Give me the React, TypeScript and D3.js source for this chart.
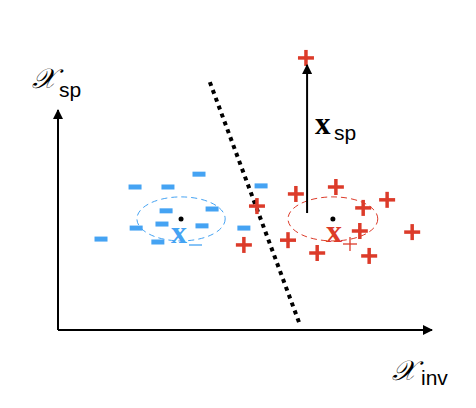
import React from 'react';
import * as d3 from 'd3';

// points in axis units (x: 0..10, y: 0..6)
const negX = [3.77, 2.06, 2.94, 5.43, 2.89, 4.12, 2.78, 2.09, 3.85, 4.97, 1.15, 2.67];
const negY = [4.25, 3.9, 3.9, 3.93, 3.25, 3.3, 2.89, 2.78, 2.84, 2.78, 2.48, 2.4];
const posX = [6.63, 6.36, 7.43, 8.8, 5.32, 8.16, 8.07, 6.15, 4.97, 9.47, 6.93, 8.32];
const posY = [7.42, 3.71, 3.9, 3.55, 3.38, 3.33, 2.7, 2.45, 2.32, 2.67, 2.1, 2.02];
const centers = [
  { name: 'neg', x: 3.29, y: 3.03, rx: 1.18, ry: 0.6 },
  { name: 'pos', x: 7.35, y: 3.03, rx: 1.2, ry: 0.6 },
];
const boundary = [[4.06, 6.76], [6.47, 0.14]];
const shift = [[6.66, 3.19], [6.66, 7.23]];

const BLUE = '#45a3f3';
const RED = '#dc3b2a';

const App = () => {
  const width = 476;
  const height = 408;
  const x = d3.scaleLinear().domain([0, 10]).range([58, 432]);
  const y = d3.scaleLinear().domain([0, 6]).range([330, 110]);
  const line = d3.line().x((d) => x(d[0])).y((d) => y(d[1]));

  const neg = negX.map((v, i) => ({ x: v, y: negY[i] }));
  const pos = posX.map((v, i) => ({ x: v, y: posY[i] }));

  return (
    <svg width={width} height={height} style={{ position: 'absolute', left: 0, top: 0, background: '#fff' }}>
      <defs>
        <marker id="arr" viewBox="0 0 10 10" refX="9" refY="5" markerWidth="5" markerHeight="5" orient="auto">
          <path d="M0,0 L10,5 L0,10 z" fill="#000" />
        </marker>
      </defs>

      {/* axes */}
      <path d={line([[0, 0], [10, 0]])} stroke="#000" strokeWidth={2} fill="none" markerEnd="url(#arr)" />
      <path d={line([[0, 0], [0, 6]])} stroke="#000" strokeWidth={2} fill="none" markerEnd="url(#arr)" />

      {/* ellipses */}
      {centers.map((c) => (
        <g key={c.name}>
          <ellipse
            cx={x(c.x)}
            cy={y(c.y)}
            rx={x(c.rx) - x(0)}
            ry={y(0) - y(c.ry)}
            fill="none"
            stroke={c.name === 'neg' ? BLUE : RED}
            strokeWidth={1}
            strokeDasharray="6 4"
          />
          <circle cx={x(c.x)} cy={y(c.y)} r={2.5} fill="#000" />
        </g>
      ))}

      {/* boundary */}
      <path d={line(boundary)} stroke="#000" strokeWidth={4} strokeDasharray="4 4.4" fill="none" />

      {/* negatives */}
      {neg.map((d, i) => (
        <rect key={i} x={x(d.x) - 6.5} y={y(d.y) - 2.5} width={13} height={5} fill={BLUE} />
      ))}

      {/* positives */}
      {pos.map((d, i) => (
        <g key={i} stroke={RED} strokeWidth={3.5}>
          <line x1={x(d.x) - 8} x2={x(d.x) + 8} y1={y(d.y)} y2={y(d.y)} />
          <line x1={x(d.x)} x2={x(d.x)} y1={y(d.y) - 8} y2={y(d.y) + 8} />
        </g>
      ))}

      {/* shift arrow */}
      <path d={line(shift)} stroke="#000" strokeWidth={2} fill="none" markerEnd="url(#arr)" />
      <text x={315} y={134} fontSize={31} fontFamily="Liberation Serif" fontWeight="bold">x</text>
      <text x={334} y={140} fontSize={21} fontFamily="Liberation Sans">sp</text>

      {/* center labels */}
      <text x={171} y={243} fontSize={32} fontFamily="Liberation Serif" fontWeight="bold" fill={BLUE}>x</text>
      <line x1={189} x2={202} y1={245} y2={245} stroke={BLUE} strokeWidth={1.3} />
      <text x={326} y={242} fontSize={32} fontFamily="Liberation Serif" fontWeight="bold" fill={RED}>x</text>
      <g stroke={RED} strokeWidth={1.3}>
        <line x1={343} x2={357} y1={244} y2={244} />
        <line x1={350} x2={350} y1={237} y2={251} />
      </g>

      {/* axis labels */}
      <text x={32} y={88} fontSize={28} fontFamily="DejaVu Serif" fontStyle="italic">𝒳</text>
      <text x={59} y={97} fontSize={21} fontFamily="Liberation Sans">sp</text>
      <text x={392} y={380} fontSize={28} fontFamily="DejaVu Serif" fontStyle="italic">𝒳</text>
      <text x={421} y={385} fontSize={21} fontFamily="Liberation Sans">inv</text>
    </svg>
  );
};

export default App;
